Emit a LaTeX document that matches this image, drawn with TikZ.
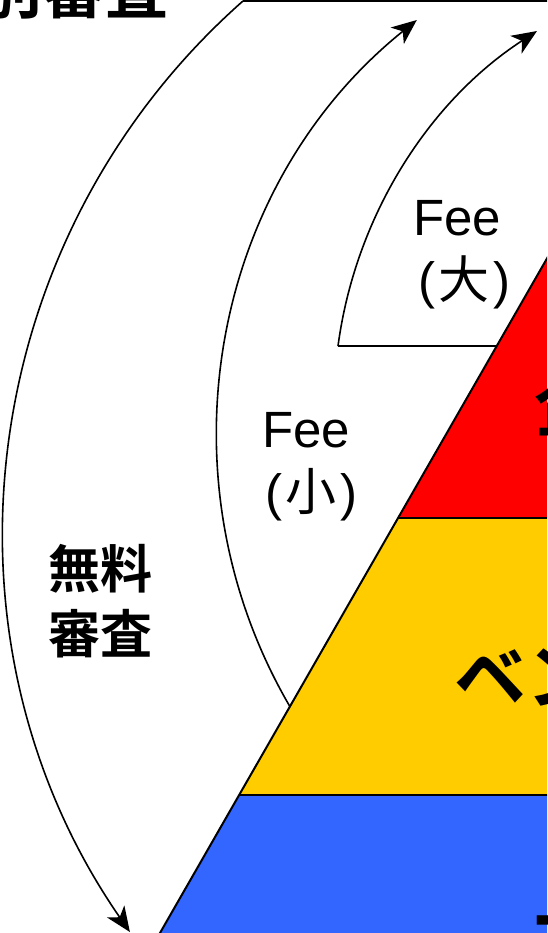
\documentclass[tikz,border=0pt]{standalone}
\usepackage{fontspec}
\setmainfont{Liberation Sans}
\newfontfamily\jpfont{Noto Sans CJK JP}[BoldFont={Noto Sans CJK JP Bold}]
\usetikzlibrary{arrows.meta}
\definecolor{pyrRed}{HTML}{FF0000}
\definecolor{pyrYellow}{HTML}{FFCC00}
\definecolor{pyrBlue}{HTML}{3366FF}
\tikzset{
  bracket/.style={line width=1.6pt},
  fleche/.style={bracket, -{Stealth[length=25pt,width=21pt,inset=7pt]}},
  palier/.style={line width=2pt},
  feetext/.style={font=\fontsize{51}{51}\selectfont, anchor=base, inner sep=0pt},
  jptext/.style={font=\fontsize{52}{52}\selectfont\jpfont\bfseries, anchor=base, inner sep=0pt},
  pyrtext/.style={font=\fontsize{72}{72}\selectfont\jpfont\bfseries, anchor=base west, inner sep=0pt},
}

\begin{document}
\begin{tikzpicture}[x=1pt,y=1pt]
        \useasboundingbox (0,0) rectangle (547,933);
        \clip (0,0) rectangle (547,933);
        %Pyramide
        \coordinate (pyrA) at (148.5,-20);
        \coordinate (pyrB) at (239.2,138);
        \coordinate (pyrC) at (398.1,415);
        \coordinate (pyrD) at (733.7,1000);
        \fill [pyrBlue] (pyrA) -- (pyrB) -- (800,138) -- (800,-20) -- cycle;
        \fill [pyrYellow] (pyrB) -- (pyrC) -- (800,415) -- (800,138) -- cycle;
        \fill [pyrRed] (pyrC) -- (pyrD) -- (800,1000) -- (800,415) -- cycle;
        \draw [palier] (pyrA) -- (pyrD);
        \draw [palier] (pyrB) -- (800,138);
        \draw [palier] (pyrC) -- (800,415);
        %Textes pyramide
        \node [pyrtext] (lvlTop) at (534,501) {企業};
        \node [pyrtext] (lvlMid) at (454,229) {ベンチャー};
        \node [pyrtext] (lvlLow) at (534,-15) {一般};
        %Arcs et fleches
        \coordinate (paidS) at (243,932);
        \coordinate (smallS) at (290.1,226.1);
        \coordinate (bigS) at (338,586.9);
        \coordinate (bigE) at (496.8,586.9);
        \draw [bracket] (paidS) -- (800,932);
        \draw [fleche] (paidS) arc[start angle=131.45, end angle=214.7, radius=706pt];
        \draw [fleche] (smallS) arc[start angle=210.3, end angle=128.8, radius=535pt];
        \draw [bracket] (bigE) -- (bigS);
        \draw [fleche] (bigS) arc[start angle=172.4, end angle=123.05, radius=446.3pt];
        %Textes
        \node [feetext] (feeBig) at (457,697) {Fee};
        \node [feetext] (feeBigK) at (464,634) {(\kern3pt{\jpfont 大}\kern4pt)};
        \node [feetext] (feeSmall) at (306,485) {Fee};
        \node [feetext] (feeSmallK) at (311,422) {(\kern3pt{\jpfont 小}\kern4pt)};
        \node [jptext] (freeA) at (100,344) {無料};
        \node [jptext] (freeB) at (100,279) {審査};
        \node [jptext, anchor=base east, font=\fontsize{63}{63}\selectfont\jpfont\bfseries] (paidT) at (169,919) {個別審査};
\end{tikzpicture}
\end{document}
